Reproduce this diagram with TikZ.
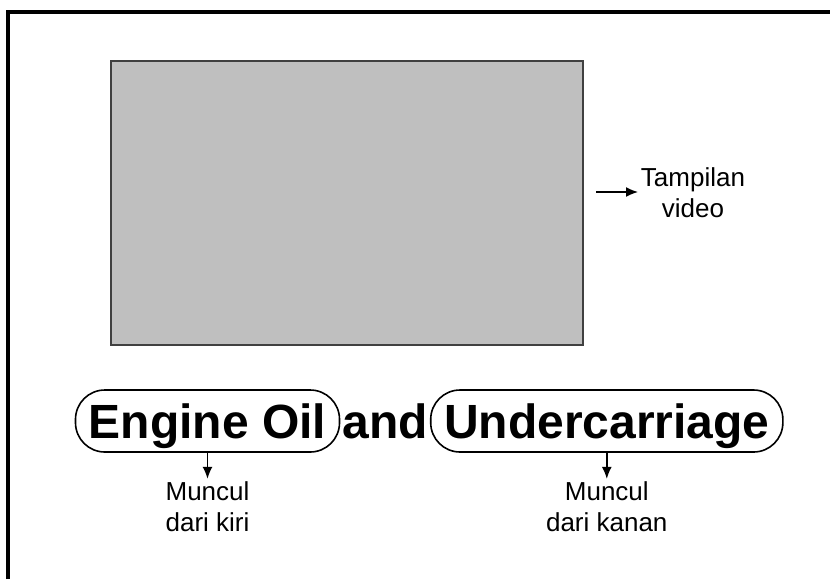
\documentclass[tikz,border=0pt]{standalone}
\usepackage{fontspec}
\setmainfont{Liberation Sans}
\usetikzlibrary{arrows.meta, positioning}

\tikzset{
  screenbox/.style={draw=black!75, line width=1.5pt, fill=black!25,
    minimum width=354pt, minimum height=213pt, inner sep=0pt},
  menubox/.style={draw, line width=1.2pt, rounded corners=22pt,
    minimum height=46.5pt, inner xsep=10pt,
    font=\fontsize{36}{41}\selectfont\bfseries,
    text height=32.4pt, text depth=6.8pt},
  note/.style={align=center, inner sep=2pt,
    font=\fontsize{19.5}{23.25}\selectfont},
  pointer/.style={line width=1.1pt, -{Latex[length=9pt,width=7.5pt]}},
}

\begin{document}
\begin{tikzpicture}[x=0.75pt, y=-0.75pt]
    \useasboundingbox (0,0) rectangle (830,579);
    % slide frame, only top and left edges in view
    \draw[line width=3pt] (8,579) -- (8,12) -- (830,12);

    % video area
    \node[screenbox] (screen) at (347,203) {};
    \coordinate (vidarrow) at (596,192);
    \node[note, anchor=west] (tampil) at (638,193) {Tampilan\\video};
    \draw[pointer] (vidarrow) -- (vidarrow -| tampil.west);

    % titles
    \node[menubox] (engine) at (207.5,421) {Engine Oil};
    \node[menubox, draw=none, inner xsep=1pt, right=0pt of engine] (andw) {and};
    \node[menubox, right=0pt of andw] (under) {Undercarriage};

    \node[note, below=19.5pt of engine] (kiri) {Muncul\\dari kiri};
    \node[note, below=19.5pt of under] (kanan) {Muncul\\dari kanan};
    \draw[pointer] (engine) -- (kiri);
    \draw[pointer] (under) -- (kanan);
\end{tikzpicture}
\end{document}
